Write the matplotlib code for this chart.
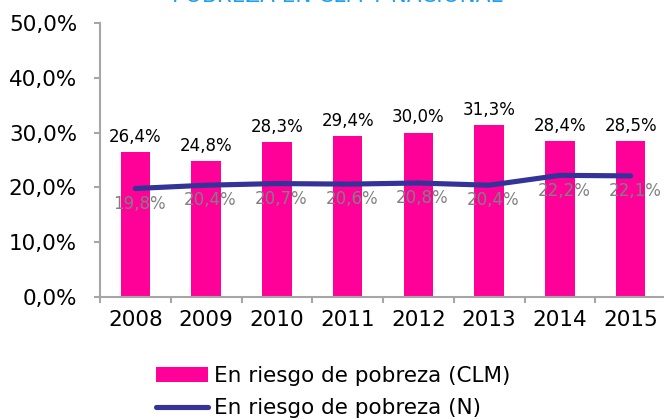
import matplotlib
matplotlib.use("Agg")
import matplotlib.pyplot as plt
import numpy as np

years = ["2008", "2009", "2010", "2011", "2012", "2013", "2014", "2015"]
clm = [26.4, 24.8, 28.3, 29.4, 30.0, 31.3, 28.4, 28.5]
nac = [19.8, 20.4, 20.7, 20.6, 20.8, 20.4, 22.2, 22.1]
yticks = [0, 10, 20, 30, 40, 50]
title = "POBREZA EN CLM Y NACIONAL"
lab_clm = "En riesgo de pobreza (CLM)"
lab_nac = "En riesgo de pobreza (N)"

def fmt(v):
    return f"{v:.1f}%".replace(".", ",")

plt.rcParams['font.family'] = ['DejaVu Sans']
fig = plt.figure(figsize=(6.64, 4.2), dpi=100)
W, H = 664, 420
ax = fig.add_axes([100 / W, 1 - 297 / H, 566 / W, 274 / H])

x = np.arange(len(years))
pink = "#FF0099"
navy = "#333399"
bars = ax.bar(x, clm, width=0.42, color=pink, label=lab_clm, zorder=2)
line, = ax.plot(x, nac, color=navy, lw=3.7, solid_capstyle="round", label=lab_nac, zorder=3)

for xi, v in zip(x, clm):
    ax.annotate(fmt(v), (xi, v), xytext=(0, 11), textcoords="offset points",
                ha="center", va="center", fontsize=12, color="black", zorder=4)
for xi, v in zip(x, nac):
    ax.annotate(fmt(v), (xi, v), xytext=(3, -11), textcoords="offset points",
                ha="center", va="center", fontsize=12, color="#808080", zorder=4)

ax.set_xlim(-0.5, len(years) - 0.5)
ax.set_ylim(0, 50)
ax.set_yticks(yticks)
ax.set_yticklabels([fmt(v) for v in yticks])
ax.set_xticks(x)
ax.set_xticklabels(years)
ax.set_xticks(np.arange(-0.5, len(years)), minor=True)

gray = "#A6A6A6"
for s in ["top", "right"]:
    ax.spines[s].set_visible(False)
for s in ["left", "bottom"]:
    ax.spines[s].set_color(gray)
    ax.spines[s].set_linewidth(1.5)
ax.tick_params(axis="y", colors=gray, labelcolor="black", labelsize=15.5, length=4.5, width=1.5, pad=12)
ax.tick_params(axis="x", which="major", length=0, labelsize=15.5, labelcolor="black", pad=9)
ax.tick_params(axis="x", which="minor", colors=gray, length=4.5, width=1.5)

fig.text(337 / W, 1 - 2 / H, title, ha="center", va="baseline", fontsize=15.5, color="#1EA0F0")

leg = fig.legend(handles=[bars, line], labels=[lab_clm, lab_nac], loc="upper left",
                 bbox_to_anchor=(156 / W, 1 - 366 / H), frameon=False, fontsize=15.5,
                 handlelength=2.4, handletextpad=0.28, labelspacing=0.58, borderaxespad=0,
                 borderpad=0, handleheight=0.7)

fig.savefig("out.png", dpi=100)
